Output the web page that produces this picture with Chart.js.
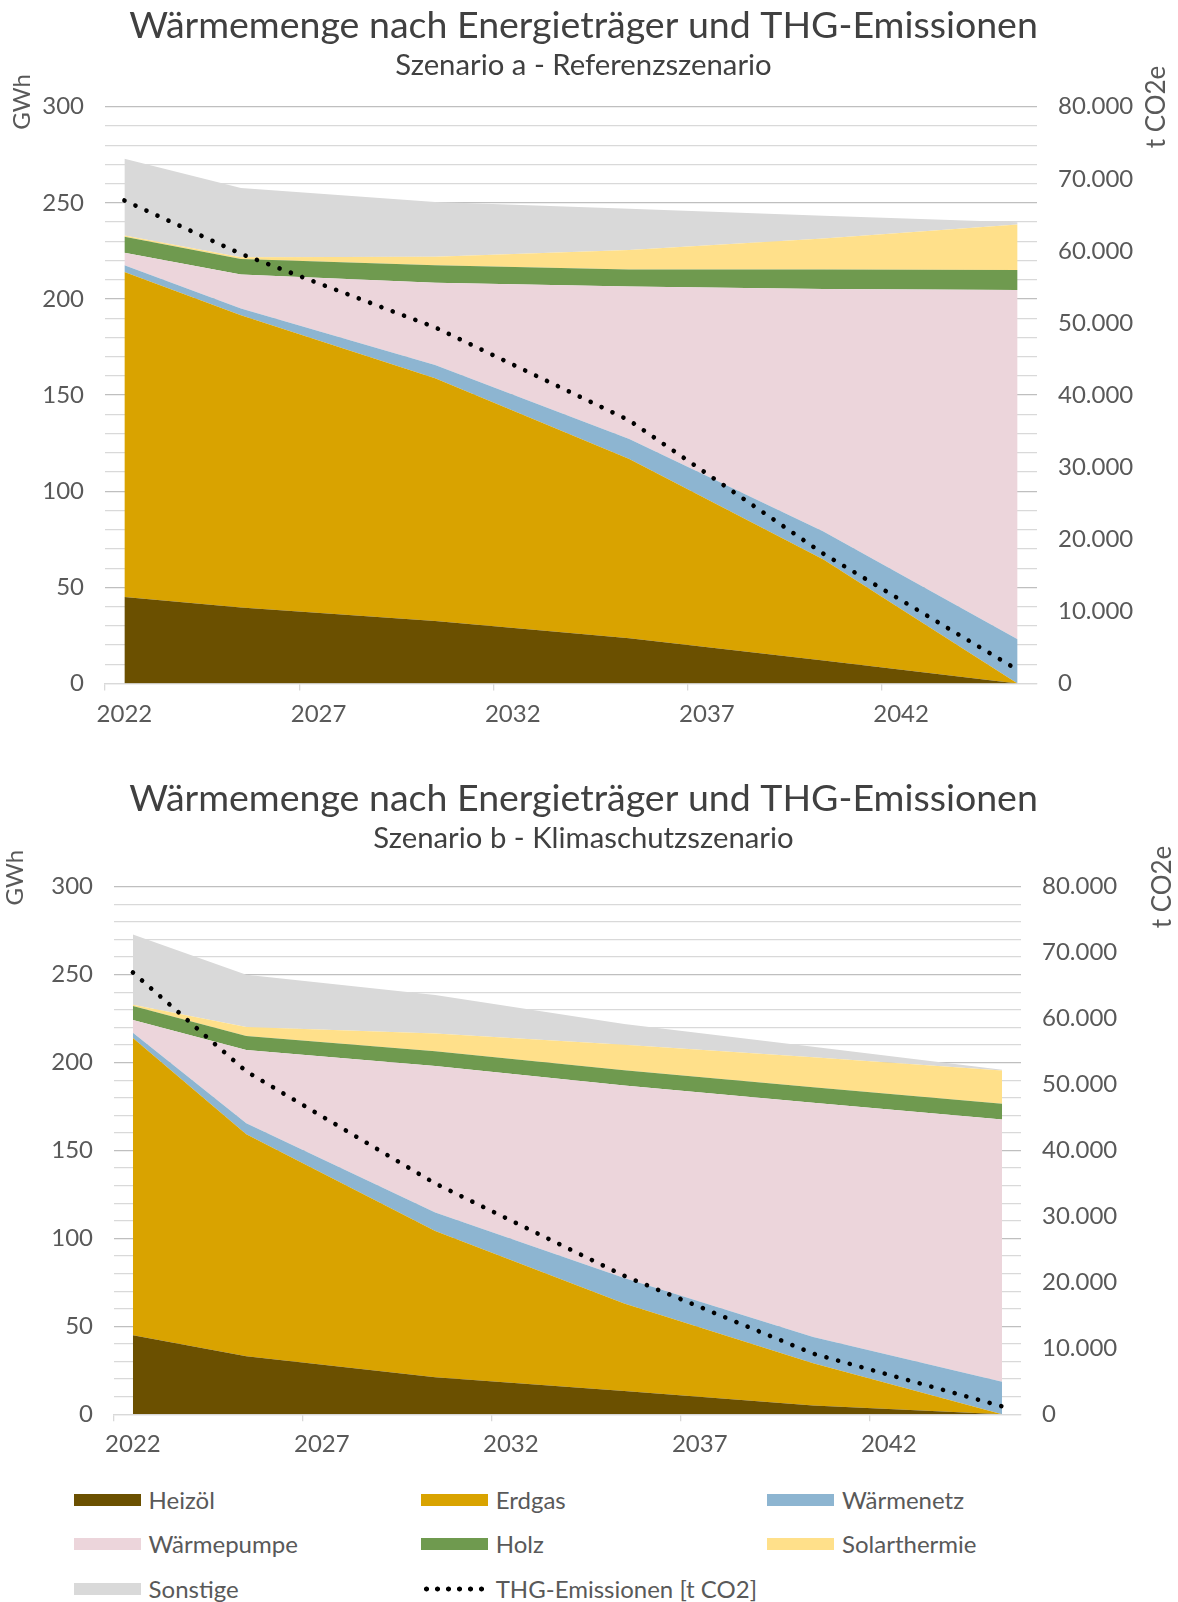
<!DOCTYPE html>
<html lang="de">
<head>
<meta charset="utf-8">
<title>Wärmemenge nach Energieträger und THG-Emissionen</title>
<script src="https://cdn.jsdelivr.net/npm/chart.js@4.4.1/dist/chart.umd.min.js"></script>
<style>
    html, body { margin: 0; padding: 0; background: #fff; }
    body { width: 1178px; height: 1602px; position: relative; font-family: Lato, sans-serif; }
    canvas { position: absolute; left: 0; }
    #chartA { top: 0; }
    #chartB { top: 740px; }
    .legend-item { position: absolute; height: 30px; line-height: 30px; font-size: 24px; color: #595959; white-space: nowrap; }
    .legend-item .swatch { position: absolute; left: 0; top: 9px; width: 67px; height: 12px; }
    .legend-item .dots { position: absolute; left: 0; top: 12px; width: 66px; height: 6px;
        background: radial-gradient(circle, #000 2.2px, rgba(0,0,0,0) 2.8px) 0 0 / 11px 6px repeat-x; }
    .legend-item span.text { position: absolute; left: 75px; top: 0; }
</style>
</head>
<body>
<canvas id="chartA" width="1178" height="740"></canvas>
<canvas id="chartB" width="1178" height="740"></canvas>
<div id="legend"></div>

<script>
// Jahre mit Stützwerten und Beschriftung der Zeitachse
const years = [2022, 2025, 2030, 2035, 2040, 2045];
const xTickLabels = [2022, 2027, 2032, 2037, 2042];

// Szenario a - Referenzszenario (GWh bzw. t CO2e)
const heizoelA = [45, 39.5, 32.5, 23.5, 12, 0];
const erdgasA = [169, 152, 126.3, 93.3, 52.5, 0];
const waermenetzA = [3.5, 3.5, 6.9, 10.4, 14.6, 23];
const waermepumpeA = [6.5, 17.7, 42.8, 79.3, 126.1, 181.7];
const holzA = [8.4, 8.1, 9, 8.9, 10.1, 10.4];
const solarA = [0.6, 0.9, 4.5, 10.1, 16.2, 23.6];
const sonstigeA = [40, 36, 28.5, 21.5, 11.8, 1.2];
const thgA = [67000, 59600, 49400, 36500, 18000, 1900];

// Szenario b - Klimaschutzszenario
const heizoelB = [45, 33, 21, 13.3, 5, 0];
const erdgasB = [169, 126.3, 83.3, 49.7, 24, 0];
const waermenetzB = [3, 6.2, 10.4, 14.5, 15, 18.5];
const waermepumpeB = [7.2, 41.7, 83.3, 109.5, 133.2, 149.2];
const holzB = [8, 8, 8.5, 8.6, 8.8, 8.9];
const solarB = [0.7, 5, 10, 14.6, 17.1, 18.9];
const sonstigeB = [39.9, 29.8, 22, 11.8, 5.9, 0.5];
const thgB = [67000, 52000, 35000, 21000, 9200, 1200];

const carriers = ['Heizöl', 'Erdgas', 'Wärmenetz', 'Wärmepumpe', 'Holz', 'Solarthermie', 'Sonstige'];
const carrierColors = ['#6b5000', '#d9a300', '#8db5d1', '#ecd5db', '#6f9a4f', '#ffe08a', '#d9d9d9'];
const emissionLabel = 'THG-Emissionen [t CO2]';

const textColor = '#595959';
const titleColor = '#404040';

Chart.defaults.font.family = 'Lato';
Chart.defaults.color = textColor;

function formatThousands(v) {
    return String(v).replace(/\B(?=(\d{3})+(?!\d))/g, '.');
}

// vertikale Achsentitel oben an den Achsen
const axisTitles = {
    id: 'axisTitles',
    afterDraw(chart, args, opts) {
        const ctx = chart.ctx;
        ctx.save();
        ctx.fillStyle = textColor;
        ctx.textAlign = 'center';
        ctx.textBaseline = 'middle';
        opts.items.forEach(function(t) {
            ctx.save();
            ctx.font = t.size + 'px Lato';
            ctx.translate(t.x, t.y);
            ctx.rotate(-Math.PI / 2);
            ctx.fillText(t.text, 0, 0);
            ctx.restore();
        });
        ctx.restore();
    }
};

function buildDatasets(series, emissions) {
    const sets = series.map(function(values, i) {
        return {
            label: carriers[i],
            data: values,
            backgroundColor: carrierColors[i],
            borderColor: 'rgba(0,0,0,0)',
            borderWidth: 0,
            pointRadius: 0,
            tension: 0,
            fill: i === 0 ? 'origin' : '-1',
            yAxisID: 'y'
        };
    });
    sets.push({
        label: emissionLabel,
        data: emissions,
        yAxisID: 'y2',
        borderColor: '#000',
        borderWidth: 4.6,
        borderDash: [0.1, 12],
        borderCapStyle: 'round',
        pointRadius: 0,
        tension: 0,
        fill: false,
        order: -1
    });
    return sets;
}

function makeChart(id, cfg) {
    const ctx = document.getElementById(id).getContext('2d');
    return new Chart(ctx, {
        type: 'line',
        data: {
            labels: years,
            datasets: buildDatasets(cfg.series, cfg.emissions)
        },
        options: {
            responsive: false,
            animation: false,
            events: [],
            layout: { padding: { left: 0, right: 11, top: 0, bottom: 0 } },
            plugins: {
                legend: { display: false },
                tooltip: { enabled: false },
                title: {
                    display: true,
                    text: 'Wärmemenge nach Energieträger und THG-Emissionen',
                    color: titleColor,
                    font: { size: 37.5, weight: 'normal' },
                    padding: { top: cfg.titleTop, bottom: 0 }
                },
                subtitle: {
                    display: true,
                    text: cfg.subtitle,
                    color: titleColor,
                    font: { size: 29.3, weight: 'normal' },
                    padding: { top: 0, bottom: cfg.subBottom }
                },
                axisTitles: { items: cfg.axisTitles }
            },
            scales: {
                x: {
                    type: 'linear',
                    min: 2021.5,
                    max: 2045.5,
                    afterBuildTicks: function(scale) {
                        const ticks = [];
                        xTickLabels.forEach(function(y) {
                            ticks.push({ value: y - 0.5 });
                            ticks.push({ value: y });
                        });
                        scale.ticks = ticks;
                    },
                    afterFit: function(scale) { scale.height = cfg.xHeight; },
                    ticks: {
                        autoSkip: false,
                        maxRotation: 0,
                        padding: 9,
                        color: textColor,
                        font: { size: 24 },
                        callback: function(v) { return Number.isInteger(v) ? String(v) : ''; }
                    },
                    grid: {
                        drawOnChartArea: false,
                        tickLength: 7,
                        lineWidth: 1.3,
                        tickColor: function(c) {
                            return c.tick && Number.isInteger(c.tick.value) ? 'rgba(0,0,0,0)' : '#d9d9d9';
                        }
                    },
                    border: { color: '#d9d9d9', width: 1.3 }
                },
                y: {
                    stacked: true,
                    min: 0,
                    max: 300,
                    afterFit: function(scale) { scale.width = cfg.leftWidth; },
                    ticks: {
                        stepSize: 10,
                        autoSkip: false,
                        padding: 21,
                        color: textColor,
                        font: { size: 24 },
                        callback: function(v) { return v % 50 === 0 ? String(v) : ''; }
                    },
                    grid: {
                        drawTicks: false,
                        lineWidth: 1.3,
                        color: function(c) {
                            if (!c.tick) return '#d9d9d9';
                            return c.tick.value % 50 === 0 && c.tick.value > 0 ? '#bfbfbf' : '#d9d9d9';
                        }
                    },
                    border: { display: false }
                },
                y2: {
                    position: 'right',
                    min: 0,
                    max: 80000,
                    afterFit: function(scale) { scale.width = cfg.rightWidth; },
                    ticks: {
                        stepSize: 10000,
                        padding: 21,
                        color: textColor,
                        font: { size: 24 },
                        callback: function(v) { return formatThousands(v); }
                    },
                    grid: { drawOnChartArea: false, drawTicks: false },
                    border: { display: false }
                }
            }
        },
        plugins: [axisTitles]
    });
}

makeChart('chartA', {
    series: [heizoelA, erdgasA, waermenetzA, waermepumpeA, holzA, solarA, sonstigeA],
    emissions: thgA,
    subtitle: 'Szenario a - Referenzszenario',
    titleTop: 3, subBottom: 23.6,
    leftWidth: 105, rightWidth: 130, xHeight: 56.5,
    axisTitles: [
        { text: 'GWh', size: 24, x: 22.5, y: 102 },
        { text: 't CO2e', size: 26, x: 1157, y: 107 }
    ]
});

makeChart('chartB', {
    series: [heizoelB, erdgasB, waermenetzB, waermepumpeB, holzB, solarB, sonstigeB],
    emissions: thgB,
    subtitle: 'Szenario b - Klimaschutzszenario',
    titleTop: 36, subBottom: 30.6,
    leftWidth: 114, rightWidth: 146, xHeight: 65.7,
    axisTitles: [
        { text: 'GWh', size: 24, x: 15.5, y: 137.6 },
        { text: 't CO2e', size: 26, x: 1163, y: 147 }
    ]
});

// gemeinsame Legende unter beiden Diagrammen
const legendCols = [73.6, 420.7, 767];
const legendRows = [1500, 1544, 1589];
const legendEntries = carriers.map(function(name, i) {
    return { text: name, color: carrierColors[i] };
});
legendEntries.push({ text: emissionLabel, dotted: true });

const legendBox = document.getElementById('legend');
legendEntries.forEach(function(entry, i) {
    const item = document.createElement('div');
    item.className = 'legend-item';
    item.style.left = legendCols[i % 3] + 'px';
    item.style.top = (legendRows[Math.floor(i / 3)] - 15) + 'px';
    const mark = document.createElement('div');
    if (entry.dotted) {
        mark.className = 'dots';
    } else {
        mark.className = 'swatch';
        mark.style.background = entry.color;
    }
    const label = document.createElement('span');
    label.className = 'text';
    label.textContent = entry.text;
    item.appendChild(mark);
    item.appendChild(label);
    legendBox.appendChild(item);
});
</script>
</body>
</html>
